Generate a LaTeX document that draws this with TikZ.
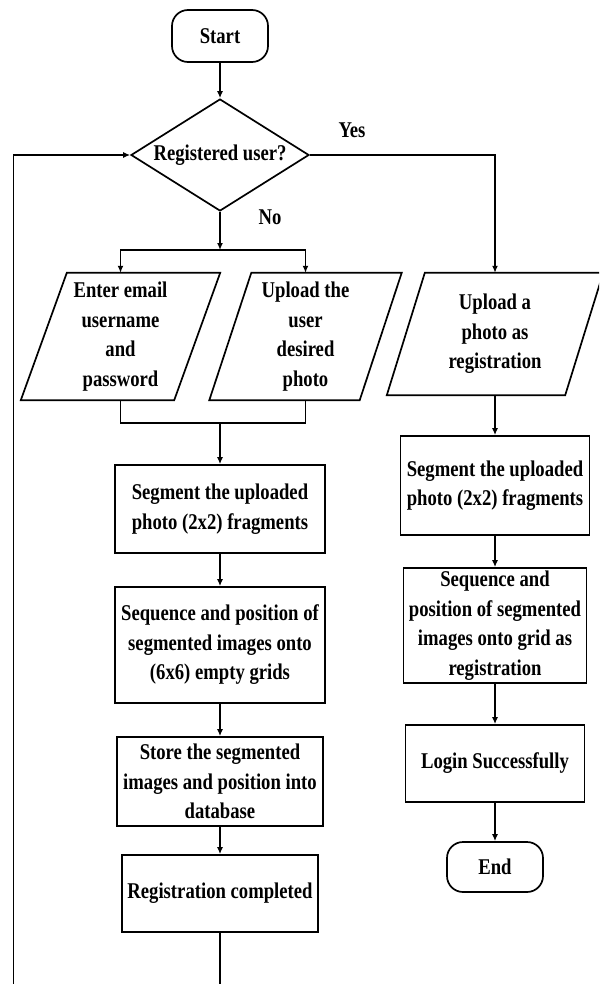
\documentclass[tikz,border=0pt]{standalone}
\usepackage{fontspec}
\setmainfont{Liberation Serif}[FakeStretch=0.83]
\usetikzlibrary{shapes.geometric,arrows.meta,calc}
\begin{document}
\begin{tikzpicture}[x=1pt,y=-1pt,
  every node/.style={font=\fontsize{22.5}{29.5}\selectfont\bfseries, align=center, inner sep=0pt},
  box/.style={draw, line width=1.7pt, rectangle},
  term/.style={draw, line width=1.7pt, rectangle, rounded corners=16pt},
  dec/.style={draw, line width=1.7pt, diamond, aspect=1.59},
  io/.style={rectangle},
  ln/.style={line width=1.7pt},
  arr/.style={line width=1.6pt, -{Latex[length=7pt,width=6pt]}}
]
\useasboundingbox (0,0) rectangle (599,984);
\clip (0,0) rectangle (599,984);
\fill[white] (0,0) rectangle (599,984);

% nodes
\node[term, minimum width=96pt, minimum height=52pt] (start) at (220,36) {Start};
\node[dec, minimum width=178pt, minimum height=112pt] (reg) at (220,155) {Registered user?};
\node (yes) at (352,130) {Yes};
\node (no) at (270,217) {No};

\node[io, minimum width=153pt, minimum height=127pt] (p1) at (120.5,336.5) {Enter email\\username\\and\\password};
\node[io, minimum width=150pt, minimum height=127pt] (p2) at (305.5,336.5) {Upload the\\user\\desired\\photo};
\node[io, minimum width=178pt, minimum height=122pt] (p3) at (495,334) {Upload a\\photo as\\registration};
\foreach \n/\s in {p1/23,p2/21,p3/19}
  \draw[ln] ($(\n.south west)+(-\s,0)$) -- ($(\n.south east)+(-\s,0)$)
     -- ($(\n.north east)+(\s,0)$) -- ($(\n.north west)+(\s,0)$) -- cycle;

\node[box, minimum width=210pt, minimum height=88pt] (b1) at (220,509) {Segment the uploaded\\photo (2x2) fragments};
\node[box, minimum width=210pt, minimum height=116pt] (b2) at (220,645) {Sequence and position of\\segmented images onto\\(6x6) empty grids};
\node[box, minimum width=206pt, minimum height=89pt] (b3) at (220,781.5) {Store the segmented\\images and position into\\database};
\node[box, minimum width=196pt, minimum height=77pt] (b4) at (220,893.5) {Registration completed};

\node[box, minimum width=189pt, minimum height=99pt] (r1) at (495,485.5) {Segment the uploaded\\photo (2x2) fragments};
\node[box, minimum width=183pt, minimum height=115pt] (r2) at (495,625.5) {Sequence and\\position of segmented\\images onto grid as\\registration};
\node[box, minimum width=179pt, minimum height=77pt] (r3) at (495,763.5) {Login Successfully};
\node[term, minimum width=96pt, minimum height=50pt] (end) at (495,867) {End};

% connectors
\coordinate (fork) at (220,250);
\coordinate (join) at (220,423);
\coordinate (lp) at (13.4,1000);

\draw[arr] (start) -- (reg);
\draw[arr] (reg.south) -- (fork);
\draw[arr] (fork) -| (p1.north);
\draw[arr] (fork) -| (p2.north);
\draw[ln] (p1.south) |- (join) -| (p2.south);
\draw[arr] (join) -- (b1);
\draw[arr] (b1) -- (b2);
\draw[arr] (b2) -- (b3);
\draw[arr] (b3) -- (b4);
\draw[arr] (b4.south) |- (lp) |- (reg.west);

\draw[arr] (reg.east) -| (p3.north);
\draw[arr] (p3) -- (r1);
\draw[arr] (r1) -- (r2);
\draw[arr] (r2) -- (r3);
\draw[arr] (r3) -- (end);
\end{tikzpicture}
\end{document}
